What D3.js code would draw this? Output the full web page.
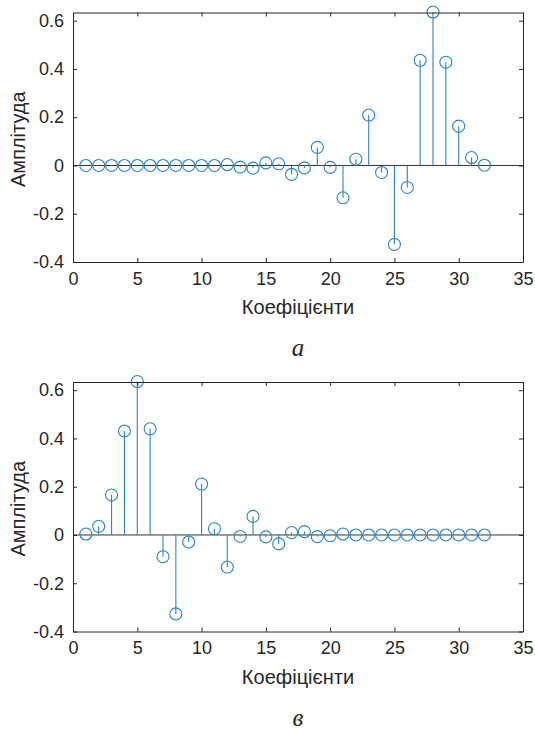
<!DOCTYPE html>
<html>
<head>
<meta charset="utf-8">
<script src="https://cdn.jsdelivr.net/npm/d3@7"></script>
<style>
  body { margin: 0; background: #fff; }
  svg { display: block; }
  text { font-family: Arial, "Liberation Sans", sans-serif; fill: #262626; }
</style>
</head>
<body>
<div id="chart"></div>
<script>
// coefficient numbers (x)
const coefIndex = [1, 2, 3, 4, 5, 6, 7, 8, 9, 10, 11, 12, 13, 14, 15, 16,
  17, 18, 19, 20, 21, 22, 23, 24, 25, 26, 27, 28, 29, 30, 31, 32];

// panel a
const ampA = [0, 0, 0, 0, 0, 0, 0, 0, 0, 0, 0, 0.004, -0.007, -0.011, 0.011, 0.007,
  -0.037, -0.01, 0.075, -0.008, -0.134, 0.026, 0.209, -0.029, -0.327, -0.091, 0.436, 0.636, 0.428, 0.163, 0.033, 0.001];

// panel в
const ampB = [0.004, 0.036, 0.166, 0.431, 0.636, 0.44, -0.09, -0.327, -0.029, 0.211, 0.026, -0.133, -0.006, 0.077, -0.008, -0.037,
  0.01, 0.014, -0.007, -0.003, 0.004, 0, 0, 0, 0, 0, 0, 0, 0, 0, 0, 0];

const xTicks = [0, 5, 10, 15, 20, 25, 30, 35];
const yTicks = [-0.4, -0.2, 0, 0.2, 0.4, 0.6];
const xDomain = [0, 35];
const yDomain = [-0.4, 0.634];

const xLabel = 'Коефіцієнти';
const yLabel = 'Амплітуда';
const captions = ['а', 'в'];

const W = 535;
const H = 729;
const stemColor = '#2a84c4';
const axisColor = '#262626';

const svg = d3.select('#chart')
  .append('svg')
  .attr('width', W)
  .attr('height', H);

function drawPanel(top, values, caption) {
  const left = 73;
  const right = 523;
  const height = 249.5;

  const x = d3.scaleLinear().domain(xDomain).range([left, right]);
  const y = d3.scaleLinear().domain(yDomain).range([top + height, top]);

  const g = svg.append('g');

  // baseline
  g.append('line')
    .attr('x1', x(xDomain[0]))
    .attr('x2', x(xDomain[1]))
    .attr('y1', y(0))
    .attr('y2', y(0))
    .attr('stroke', '#333')
    .attr('stroke-width', 1);

  // stems
  g.selectAll('.stem')
    .data(coefIndex)
    .enter()
    .append('line')
    .attr('class', 'stem')
    .attr('x1', (d) => x(d))
    .attr('x2', (d) => x(d))
    .attr('y1', y(0))
    .attr('y2', (d, i) => y(values[i]))
    .attr('stroke', stemColor)
    .attr('stroke-width', 1.1);

  // markers
  g.selectAll('.mark')
    .data(coefIndex)
    .enter()
    .append('circle')
    .attr('class', 'mark')
    .attr('cx', (d) => x(d))
    .attr('cy', (d, i) => y(values[i]))
    .attr('r', 6)
    .attr('fill', 'none')
    .attr('stroke', stemColor)
    .attr('stroke-width', 1.1);

  // axes (ticks inside, box on)
  const fmt = (d) => (d === 0 ? '0' : d.toFixed(1));
  const ax = [
    [d3.axisBottom(x).tickValues(xTicks).tickSizeInner(-4).tickSizeOuter(0).tickPadding(10), `translate(0,${y(yDomain[0])})`, true],
    [d3.axisTop(x).tickValues(xTicks).tickSizeInner(-4).tickSizeOuter(0), `translate(0,${y(yDomain[1])})`, false],
    [d3.axisLeft(y).tickValues(yTicks).tickFormat(fmt).tickSizeInner(-4).tickSizeOuter(0).tickPadding(9), `translate(${left},0)`, true],
    [d3.axisRight(y).tickValues(yTicks).tickSizeInner(-4).tickSizeOuter(0), `translate(${right},0)`, false],
  ];
  ax.forEach(([axis, tr, labels]) => {
    const a = g.append('g').attr('transform', tr).call(axis);
    a.select('.domain').attr('stroke', axisColor);
    a.selectAll('.tick line').attr('stroke', axisColor);
    a.selectAll('.tick text')
      .style('font-size', '18px')
      .attr('fill', axisColor)
      .style('display', labels ? null : 'none');
  });

  // axis titles
  g.append('text')
    .attr('x', (left + right) / 2)
    .attr('y', top + height + 52)
    .attr('text-anchor', 'middle')
    .style('font-size', '20px')
    .text(xLabel);

  g.append('text')
    .attr('transform', `translate(25,${top + height / 2 + 2}) rotate(-90)`)
    .attr('text-anchor', 'middle')
    .style('font-size', '20px')
    .text(yLabel);

  // caption
  g.append('text')
    .attr('x', (left + right) / 2)
    .attr('y', top + height + 94)
    .attr('text-anchor', 'middle')
    .style('font-family', '"Liberation Serif", "DejaVu Serif", serif')
    .style('font-style', 'italic')
    .style('font-size', '25px')
    .attr('fill', '#000')
    .text(caption);
}

drawPanel(12.5, ampA, captions[0]);
drawPanel(382, ampB, captions[1]);
</script>
</body>
</html>
